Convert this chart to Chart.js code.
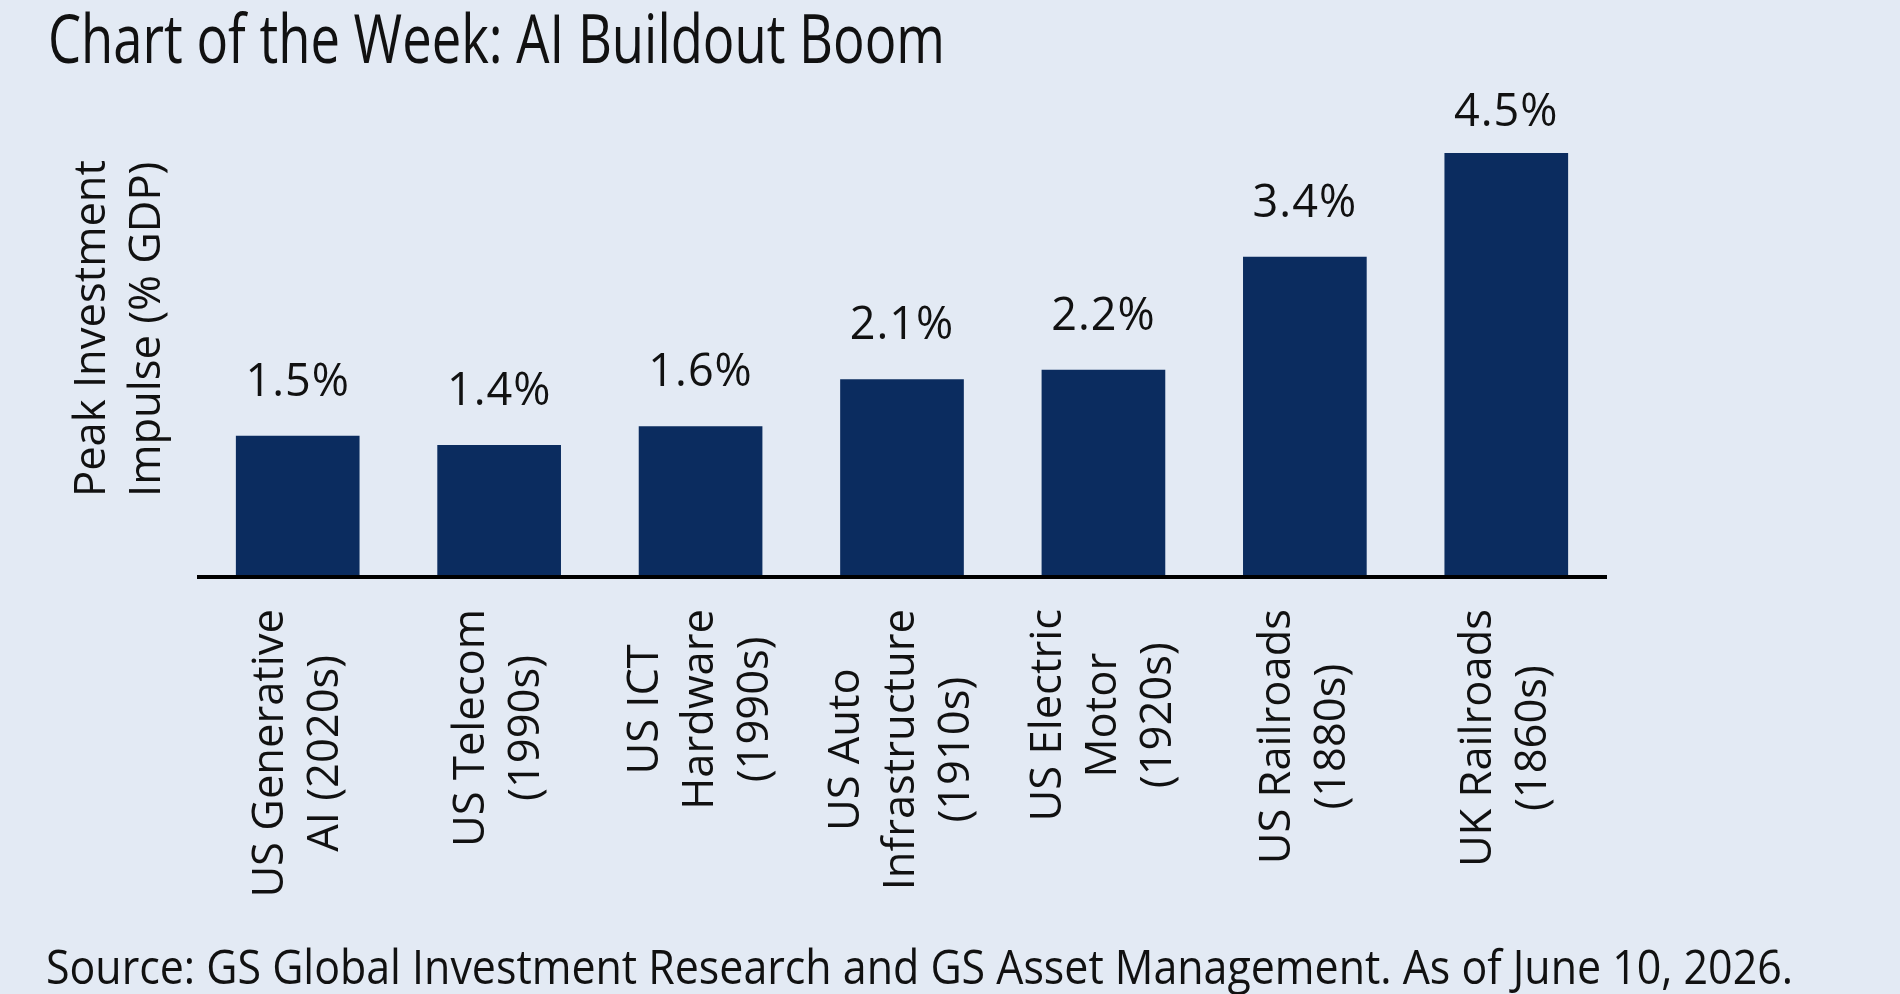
<!DOCTYPE html>
<html>
<head>
<meta charset="utf-8">
<script src="https://cdn.jsdelivr.net/npm/chart.js@4/dist/chart.umd.min.js"></script>
<style>
  html, body { margin: 0; padding: 0; background: #e3eaf4; }
  body { width: 1900px; height: 994px; position: relative; overflow: hidden; }
  #chart { position: absolute; left: 0; top: 0; }
  .fit { position: absolute; white-space: nowrap; line-height: 1; color: #111;
         font-family: "Liberation Sans Narrow", "Open Sans", sans-serif; transform-origin: 0 0; }
  #title { left: 48px; top: 3px; font-size: 68px; }
  #source { left: 46px; top: 942px; font-size: 48px; }
</style>
</head>
<body>
<div id="title" class="fit" data-w="897">Chart of the Week: AI Buildout Boom</div>
<canvas id="chart" width="1900" height="994"></canvas>
<div id="source" class="fit" data-w="1747">Source: GS Global Investment Research and GS Asset Management. As of June 10, 2026.</div>
<script>
const categoryLines = [
  ["US Generative", "AI (2020s)"],
  ["US Telecom", "(1990s)"],
  ["US ICT", "Hardware", "(1990s)"],
  ["US Auto", "Infrastructure", "(1910s)"],
  ["US Electric", "Motor", "(1920s)"],
  ["US Railroads", "(1880s)"],
  ["UK Railroads", "(1860s)"],
];
const impulseValues = [1.5, 1.4, 1.6, 2.1, 2.2, 3.4, 4.5];
const yTitleLines = ["Peak Investment", "Impulse (% GDP)"];

const navy = "#0b2c5f";
const ink = "#111111";
const labelFont = '43.5px "Open Sans", sans-serif';
const valueFont = '45px "Open Sans", sans-serif';

// squeeze the condensed header/footer text to its width in the original
document.querySelectorAll(".fit").forEach((el) => {
  const w = el.getBoundingClientRect().width;
  el.style.transform = `scaleX(${el.dataset.w / w})`;
});

const customDraw = {
  id: "customDraw",
  afterDatasetsDraw(chart) {
    const { ctx, chartArea, scales } = chart;
    const x = scales.x, y = scales.y;
    const base = y.getPixelForValue(0);

    ctx.save();
    // axis line
    ctx.strokeStyle = "#000";
    ctx.lineWidth = 4;
    ctx.beginPath();
    ctx.moveTo(chartArea.left, base);
    ctx.lineTo(chartArea.right, base);
    ctx.stroke();

    ctx.fillStyle = ink;

    // value labels
    ctx.font = valueFont;
    ctx.letterSpacing = "1px";
    ctx.textAlign = "center";
    ctx.textBaseline = "middle";
    chart.getDatasetMeta(0).data.forEach((bar, i) => {
      const ly = Math.max(bar.y - 53, chartArea.top + 7);
      ctx.fillText(impulseValues[i].toFixed(1) + "%", bar.x, ly);
    });
    ctx.letterSpacing = "0px";

    // rotated category labels, lines centred on each other
    ctx.font = labelFont;
    categoryLines.forEach((lines, i) => {
      const cx = x.getPixelForValue(i);
      const maxW = Math.max(...lines.map((l) => ctx.measureText(l).width));
      const cy = base + 32 + maxW / 2;
      lines.forEach((line, k) => {
        ctx.save();
        ctx.translate(cx + (k - (lines.length - 1) / 2) * 55, cy);
        ctx.rotate(-Math.PI / 2);
        ctx.textAlign = "center";
        ctx.fillText(line, 0, 0);
        ctx.restore();
      });
    });

    // y axis title
    yTitleLines.forEach((line, k) => {
      ctx.save();
      ctx.translate(93 + k * 55, 497);
      ctx.rotate(-Math.PI / 2);
      ctx.textAlign = "left";
      ctx.fillText(line, 0, 0);
      ctx.restore();
    });
    ctx.restore();
  },
};

new Chart(document.getElementById("chart").getContext("2d"), {
  type: "bar",
  data: {
    labels: categoryLines,
    datasets: [
      {
        data: impulseValues,
        backgroundColor: navy,
        categoryPercentage: 1,
        barPercentage: 0.614,
      },
    ],
  },
  options: {
    responsive: false,
    animation: false,
    devicePixelRatio: 1,
    layout: { padding: { left: 197, right: 293, top: 106, bottom: 417 } },
    plugins: { legend: { display: false }, tooltip: { enabled: false } },
    scales: {
      x: { display: false },
      y: { display: false, min: 0, max: 5 },
    },
  },
  plugins: [customDraw],
});
</script>
</body>
</html>
